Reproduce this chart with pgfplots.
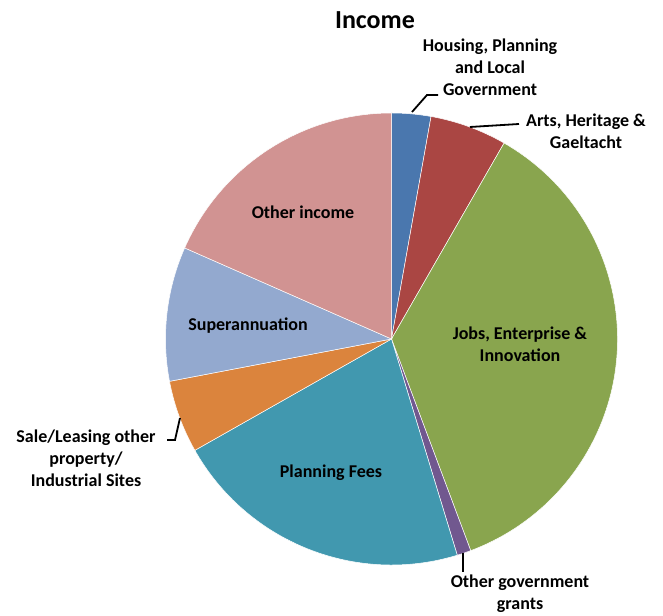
\documentclass[border=0pt]{standalone}
\usepackage{pgfplots}
\pgfplotsset{compat=1.18}
\usepackage{pgfplotstable}
\usepackage{fontspec}
\setmainfont{Carlito}

\definecolor{c0}{HTML}{4A77AE}
\definecolor{c1}{HTML}{AA4643}
\definecolor{c2}{HTML}{89A54E}
\definecolor{c3}{HTML}{71588F}
\definecolor{c4}{HTML}{4198AF}
\definecolor{c5}{HTML}{DB843D}
\definecolor{c6}{HTML}{93A9CF}
\definecolor{c7}{HTML}{D19392}

% share of income, percent (clockwise from 12 o'clock)
\pgfplotstableread{
idx value
0 2.8
1 5.5
2 36.0
3 1.0
4 21.5
5 5.2
6 9.6
7 18.4
}\income

\newcommand\cumangle{90}
\pgfplotsforeachungrouped \i in {0,...,7}{%
  \pgfplotstablegetelem{\i}{value}\of\income
  \pgfmathsetmacro\wdelta{-3.6*\pgfplotsretval}%
  \expandafter\xdef\csname wedgeS\i\endcsname{\cumangle}%
  \expandafter\xdef\csname wedgeD\i\endcsname{\wdelta}%
  \pgfmathsetmacro\newcum{\cumangle+\wdelta}%
  \xdef\cumangle{\newcum}%
}

\begin{document}
\begin{tikzpicture}
\begin{axis}[
  scale only axis, width=663pt, height=615pt,
  xmin=0, xmax=663, ymin=0, ymax=615,
  hide axis, clip=false,
]
\path (axis cs:0,0) rectangle (axis cs:663,615);
\pgfplotsinvokeforeach{0,...,7}{
  \fill[color=c#1, draw=white, line width=0.5pt]
    (axis cs:391.5,276) -- ++(\csname wedgeS#1\endcsname:226pt)
    arc[start angle=\csname wedgeS#1\endcsname, delta angle=\csname wedgeD#1\endcsname, radius=226pt] -- cycle;
}
\tikzset{lbl/.style={align=center, font=\bfseries\fontsize{18}{22}\selectfont, inner sep=0pt}}
\node[font=\bfseries\fontsize{26}{30}\selectfont, inner sep=0pt] at (axis cs:375,595) {Income};
\node[lbl] at (axis cs:490,548) {Housing, Planning\\and Local\\Government};
\node[lbl] at (axis cs:586,483.5) {Arts, Heritage \&\\Gaeltacht};
\node[lbl] at (axis cs:303,403) {Other income};
\node[lbl] at (axis cs:248,289) {Superannuation};
\node[lbl] at (axis cs:520,270.5) {Jobs, Enterprise \&\\Innovation};
\node[lbl] at (axis cs:331,142) {Planning Fees};
\node[lbl] at (axis cs:86,157) {Sale/Leasing other\\property/\\Industrial Sites};
\node[lbl] at (axis cs:520,21) {Other government\\grants};
\draw[black, line width=1.8pt] (axis cs:412,503) -- (axis cs:427,520) -- (axis cs:438,520);
\draw[black, line width=1.8pt] (axis cs:470,488) -- (axis cs:519,491);
\draw[black, line width=1.8pt] (axis cs:463,62) -- (axis cs:463,43);
\draw[black, line width=1.8pt] (axis cs:180,197) -- (axis cs:175,175) -- (axis cs:167,175);
\end{axis}
\end{tikzpicture}
\end{document}
